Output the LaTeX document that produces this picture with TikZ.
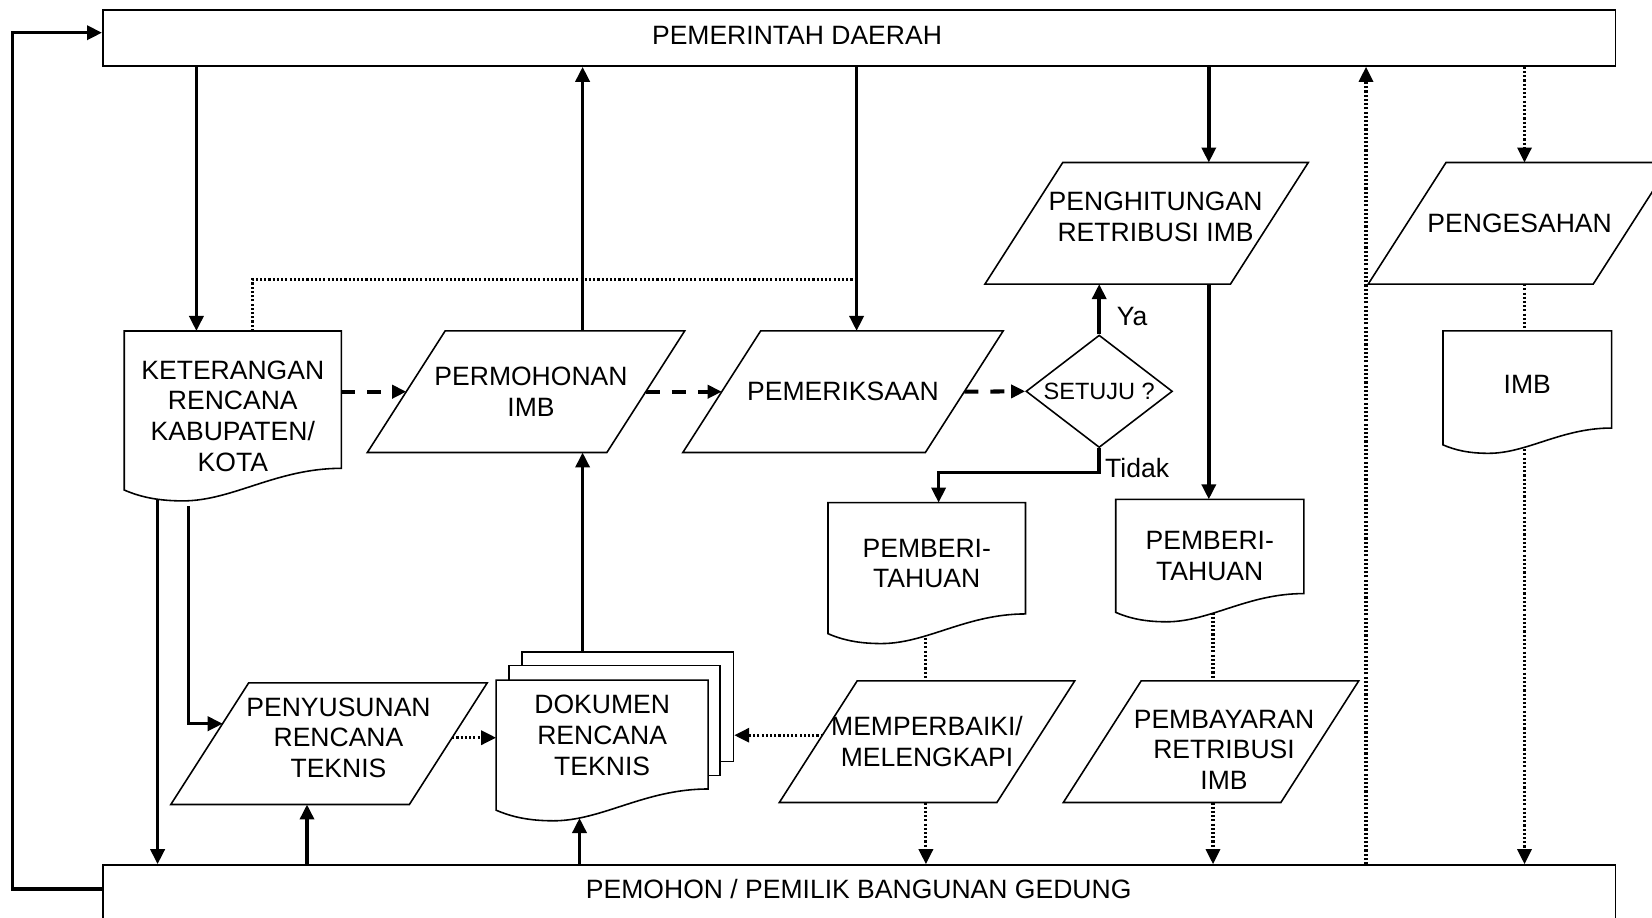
\documentclass[tikz,border=0pt]{standalone}
\usepackage{fontspec}
\setmainfont{Liberation Sans}
\usepackage{tikz}
\usetikzlibrary{
    calc,
    arrows.meta,
    shapes.geometric,
    backgrounds % connectors go behind the shapes
}
\newdimen\docx
\newdimen\docy
\newdimen\docw
\newdimen\doct
\newdimen\slk
\makeatletter
% document shape: straight top, wavy bottom (south = lower left corner)
\pgfdeclareshape{wavydoc}{%
    \inheritsavedanchors[from=rectangle]
    \inheritanchorborder[from=rectangle]
    \inheritanchor[from=rectangle]{center}
    \inheritanchor[from=rectangle]{north}
    \inheritanchor[from=rectangle]{south}
    \inheritanchor[from=rectangle]{east}
    \inheritanchor[from=rectangle]{west}
    \inheritanchor[from=rectangle]{north east}
    \inheritanchor[from=rectangle]{north west}
    \inheritanchor[from=rectangle]{south east}
    \inheritanchor[from=rectangle]{south west}
    \backgroundpath{%
        \southwest \docx=\pgf@x \docy=\pgf@y
        \northeast \docw=\pgf@x \advance\docw by -\docx \doct=\pgf@y
        \pgfpathmoveto{\pgfqpoint{\docx}{\doct}}%
        \pgfpathlineto{\pgfpoint{\docx+\docw}{\doct}}%
        \pgfpathlineto{\pgfpoint{\docx+\docw}{\docy+0.1*\docw}}%
        \pgfpathcurveto{\pgfpoint{\docx+0.7*\docw}{\docy+0.1*\docw}}%
            {\pgfpoint{\docx+0.5*\docw}{\docy-0.05*\docw}}%
            {\pgfpoint{\docx+0.27*\docw}{\docy-0.05*\docw}}%
        \pgfpathcurveto{\pgfpoint{\docx+0.15*\docw}{\docy-0.05*\docw}}%
            {\pgfpoint{\docx+0.07*\docw}{\docy-0.03*\docw}}%
            {\pgfqpoint{\docx}{\docy}}%
        \pgfpathclose
    }%
}
% parallelogram leaning right; west/east anchors sit on the slanted sides at mid height
\pgfdeclareshape{slantbox}{%
    \inheritsavedanchors[from=rectangle]
    \inheritanchorborder[from=rectangle]
    \inheritanchor[from=rectangle]{center}
    \inheritanchor[from=rectangle]{north}
    \inheritanchor[from=rectangle]{south}
    \inheritanchor[from=rectangle]{east}
    \inheritanchor[from=rectangle]{west}
    \backgroundpath{%
        \southwest \docx=\pgf@x \docy=\pgf@y
        \northeast \docw=\pgf@x \doct=\pgf@y
        \slk=\doct \advance\slk by -\docy \slk=0.32\slk
        \pgfpathmoveto{\pgfpoint{\docx+\slk}{\doct}}%
        \pgfpathlineto{\pgfpoint{\docw+\slk}{\doct}}%
        \pgfpathlineto{\pgfpoint{\docw-\slk}{\docy}}%
        \pgfpathlineto{\pgfpoint{\docx-\slk}{\docy}}%
        \pgfpathclose
    }%
}
\makeatother
\newcommand{\ind}[1]{\hspace*{#1}}
\tikzset{
    % style for the two long boxes
    party/.style={draw, line width=0.9pt, rectangle, inner sep=0pt},
    % style for the process steps (parallelograms)
    proc/.style={draw, fill=white, line width=0.9pt, slantbox, minimum height=2.4cm, inner sep=0pt, align=center},
    % style for documents
    doc/.style={draw, fill=white, line width=0.9pt, wavydoc, inner sep=0pt, align=center},
    sheet/.style={draw, fill=white, line width=0.9pt, rectangle, inner sep=0pt},
    % style for the decision
    ask/.style={
        draw, fill=white, line width=0.9pt, diamond, aspect=1.3, inner sep=0pt,
        minimum width=2.93cm, minimum height=2.25cm,
        font=\fontsize{13.4}{15}\selectfont
    },
    % connectors
    flow/.style={line width=2pt, -{Triangle[length=0.3cm, width=0.28cm]}},
    dflow/.style={line width=2.3pt, dash pattern=on 0.28cm off 0.24cm,
        -{Triangle[length=0.28cm, width=0.26cm]}},
    pflow/.style={line width=1.8pt, dash pattern=on 1.2pt off 1.2pt,
        -{Triangle[length=0.3cm, width=0.28cm]}},
    pline/.style={line width=1.8pt, dash pattern=on 1.2pt off 1.2pt}
}

\begin{document}
\begin{tikzpicture}[x=0.02cm, y=-0.02cm, font=\fontsize{15.1}{17.4}\selectfont]
    \useasboundingbox (0,0) rectangle (1652,917);
    \clip (0,0) rectangle (1652,917);
    \coordinate (back) at (12.5,32.7);
    \coordinate (tap) at (856.6,279.3);
    \coordinate (kb) at (188.4,506);
    \coordinate (dokb) at (579.5,818);

    \node (gov) at (859.15,38)[party, minimum width=30.26cm, minimum height=1.12cm]{};
    \node (pem) at (859.15,905)[party, minimum width=30.26cm, minimum height=1.6cm]{};
    \node (govtxt) at (797,35){PEMERINTAH DAERAH};
    \node (pemtxt) at (858.7,889){PEMOHON / PEMILIK BANGUNAN GEDUNG};

    \node (ket) at (232.8,410.5)[doc, minimum width=4.31cm, minimum height=3.15cm, text height=2.43cm]{KETERANGAN\\RENCANA\\KABUPATEN/\\KOTA};
    \node (perm) at (526,391.7)[proc, minimum width=4.76cm]{\ind{0.2cm}PERMOHONAN\\\ind{0.2cm}IMB};
    \node (peri) at (843,391.7)[proc, minimum width=4.82cm]{PEMERIKSAAN};
    \node (setuju) at (1099.2,391.3)[ask]{SETUJU ?};
    \node (hitung) at (1146.6,223.3)[proc, minimum width=4.88cm, text depth=0.26cm]{\ind{0.36cm}PENGHITUNGAN\\\ind{0.36cm}RETRIBUSI IMB};
    \node (sah) at (1519.6,223.3)[proc, minimum width=4.47cm]{PENGESAHAN};
    \node (imb) at (1527.25,387.85)[doc, minimum width=3.34cm, minimum height=2.25cm, text depth=0.12cm]{IMB};
    \node (pembL) at (926.75,568.15)[doc, minimum width=3.92cm, minimum height=2.59cm, text depth=0.2cm]{PEMBERI-\\TAHUAN};
    \node (pembR) at (1209.75,555.85)[doc, minimum width=3.73cm, minimum height=2.23cm]{PEMBERI-\\TAHUAN};
    \node (susun) at (329,743.7)[proc, minimum width=4.74cm, text depth=0.24cm]{\ind{0.38cm}PENYUSUNAN\\\ind{0.38cm}RENCANA\\\ind{0.38cm}TEKNIS};
    \node (dok3) at (627.7,706.7)[sheet, minimum width=4.23cm, minimum height=2.2cm]{};
    \node (dok2) at (614.5,720.6)[sheet, minimum width=4.22cm, minimum height=2.2cm]{};
    \node (dok) at (602.15,745.15)[doc, minimum width=4.21cm, minimum height=2.57cm, text depth=0.4cm]{DOKUMEN\\RENCANA\\TEKNIS};
    \node (fix) at (927,741.7)[proc, minimum width=4.32cm]{MEMPERBAIKI/\\MELENGKAPI};
    \node (bayar) at (1211,741.7)[proc, minimum width=4.32cm, text height=1.9cm]{\ind{0.52cm}PEMBAYARAN\\\ind{0.52cm}RETRIBUSI\\\ind{0.52cm}IMB};

    \coordinate (s1) at ([xshift=0.08cm, yshift=0.12cm]susun.east);
    \coordinate (s2) at ([xshift=0.26cm, yshift=0.4cm]susun.west);
    \coordinate (f1) at ([xshift=0.09cm, yshift=0.13cm]fix.west);

    \begin{scope}[on background layer]
        \draw[flow] (pem.west |- 0,889) -| (back) -- (gov.west |- back);
        \draw[flow] (gov.south -| 196.4,0) -- (ket.north -| 196.4,0);
        \draw[flow] (perm.north -| 582.6,0) -- (gov.south -| 582.6,0);
        \draw[flow] (gov.south -| tap) -- (peri.north -| tap);
        \draw[flow] (gov.south -| 1208.8,0) -- (hitung.north -| 1208.8,0);
        \draw[flow] (hitung.south -| 1208.8,0) -- (pembR.north -| 1208.8,0);
        \draw[pline] (ket.north -| 252.7,0) |- (tap);
        \draw[dflow] (ket.east |- perm.west) -- (perm.west);
        \draw[dflow] (perm.east) -- (peri.west);
        \draw[dflow] (peri.east) -- (setuju.west);
        \draw[flow] (setuju.north) -- node[pos=.35, right, xshift=0.2cm]{Ya} (setuju.north |- hitung.south);
        \draw[flow] (setuju.south) -- node[pos=.8, right, inner sep=1pt, xshift=0.05cm]{Tidak} ++(0,24) -| (pembL.north -| 938.6,0);
        \draw[flow] (ket.south -| 157.6,0) -- (pem.north -| 157.6,0);
        \draw[flow] (kb) |- (s2);
        \draw[flow] (pem.north -| 307,0) -- (susun.south -| 307,0);
        \draw[flow] (pem.north -| 579.5,0) -- (dokb);
        \draw[flow] (dok3.north -| 582.6,0) -- (perm.south -| 582.6,0);
        \draw[pflow] (s1) -- (s1 -| dok.west);
        \draw[pflow] (f1) -- (f1 -| dok3.east);
        \draw[pline] (pembL.south -| 925.9,0) -- (fix.north -| 925.9,0);
        \draw[pflow] (fix.south -| 925.9,0) -- (pem.north -| 925.9,0);
        \draw[pline] (pembR.south -| 1213,0) -- (bayar.north -| 1213,0);
        \draw[pflow] (bayar.south -| 1213,0) -- (pem.north -| 1213,0);
        \draw[pflow] (pem.north -| 1366,0) -- (gov.south -| 1366,0);
        \draw[pflow] (gov.south -| 1524.5,0) -- (sah.north -| 1524.5,0);
        \draw[pline] (sah.south -| 1524.5,0) -- (imb.north -| 1524.5,0);
        \draw[pflow] (imb.south -| 1524.5,0) -- (pem.north -| 1524.5,0);
    \end{scope}
\end{tikzpicture}
\end{document}
